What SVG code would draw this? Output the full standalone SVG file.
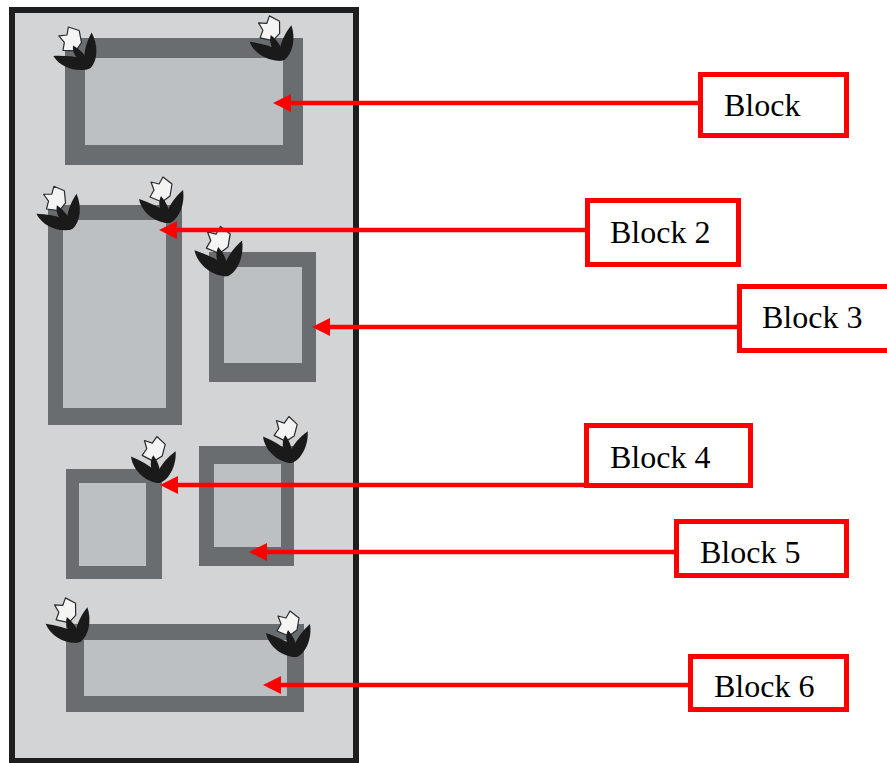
<svg xmlns="http://www.w3.org/2000/svg" xmlns:xlink="http://www.w3.org/1999/xlink" width="887" height="763" viewBox="0 0 887 763">
<style>
.frame{fill:#6a6d70}
.inner{fill:#bdc0c2}
.lbl{fill:#ffffff;stroke:#ff0000;stroke-width:5}
.txt{font-family:'Liberation Serif',Tinos,'Times New Roman',Times,'Nimbus Roman','FreeSerif','DejaVu Serif',serif;font-size:32px;fill:#000}
.arr{stroke:#ff0000;stroke-width:4.5;fill:none;marker-end:url(#ah)}
.leaf{fill:#1a1a1a}
.petal{fill:#f4f4f4;stroke:#2a2a2a;stroke-width:1.2;stroke-linejoin:round}
</style>
<defs>
<marker id="ah" viewBox="0 0 18 18" refX="3" refY="9" markerWidth="18" markerHeight="18" markerUnits="userSpaceOnUse" orient="auto">
<path d="M0,0 L18,9 L0,18 Z" fill="#ff0000"/>
</marker>
<g id="flower">
<path class="petal" d="M-19,-39 L-11,-37 L-7,-44 L2,-37 L0,-25 L-8,-19 L-20,-24 L-16,-31 Z"/>
<path class="leaf" d="M0,2 C-12,3 -28,-7 -31,-22 C-22,-19 -12,-15 -4,-9 Z"/>
<path class="leaf" d="M0,2 C10,-3 15,-18 13,-31 C6,-25 -1,-16 -4,-6 Z"/>
<path class="leaf" d="M-1,1 C-10,-7 -13,-17 -9,-25 C-3,-18 1,-10 -1,1 Z"/>
<ellipse class="leaf" cx="-3" cy="-4" rx="7" ry="6"/>
</g>
</defs>
<g id="panel">
<rect x="12" y="10" width="344" height="751" fill="#d2d4d6" stroke="#1e1e1e" stroke-width="6"/>
</g>
<g id="block1">
<rect class="frame" x="65" y="38" width="238" height="127"/>
<rect class="inner" x="85" y="58" width="198" height="87"/>
<use xlink:href="#flower" transform="translate(90,66) rotate(-20)"/>
<use xlink:href="#flower" transform="translate(284,58) rotate(-10)"/>
</g>
<g id="block2">
<rect class="frame" x="48" y="205" width="134" height="220"/>
<rect class="inner" x="63" y="220" width="103" height="188"/>
<use xlink:href="#flower" transform="translate(72,227) rotate(-15)"/>
<use xlink:href="#flower" transform="translate(170,221)"/>
</g>
<g id="block3">
<rect class="frame" x="209" y="252" width="107" height="130"/>
<rect class="inner" x="224" y="267" width="78" height="96"/>
<use xlink:href="#flower" transform="translate(228,274) scale(1.08)"/>
</g>
<g id="block4">
<rect class="frame" x="66" y="469" width="96" height="110"/>
<rect class="inner" x="79" y="483" width="67" height="83"/>
<use xlink:href="#flower" transform="translate(160,481) rotate(5)"/>
</g>
<g id="block5">
<rect class="frame" x="199" y="446" width="95" height="120"/>
<rect class="inner" x="214" y="464" width="67" height="83"/>
<use xlink:href="#flower" transform="translate(292,461) rotate(5)"/>
</g>
<g id="block6">
<rect class="frame" x="66" y="624" width="238" height="88"/>
<rect class="inner" x="84" y="640" width="203" height="56"/>
<use xlink:href="#flower" transform="translate(80,640) rotate(-10)"/>
<use xlink:href="#flower" transform="translate(297,655)"/>
</g>
<g id="connectors">
<line class="arr" x1="698" y1="103" x2="288" y2="103"/>
<line class="arr" x1="585" y1="230" x2="174" y2="230"/>
<line class="arr" x1="737" y1="327" x2="327" y2="327"/>
<line class="arr" x1="584" y1="485" x2="175" y2="485"/>
<line class="arr" x1="674" y1="552" x2="264" y2="552"/>
<line class="arr" x1="688" y1="685" x2="278" y2="685"/>
</g>
<g id="label1">
<rect class="lbl" x="700.5" y="74.5" width="146" height="61"/>
<text class="txt" x="724" y="116">Block</text>
</g>
<g id="label2">
<rect class="lbl" x="587.5" y="200.5" width="151" height="64"/>
<text class="txt" x="610" y="243">Block 2</text>
</g>
<g id="label3">
<rect class="lbl" x="739.5" y="286.5" width="160" height="64"/>
<text class="txt" x="762" y="328">Block 3</text>
</g>
<g id="label4">
<rect class="lbl" x="586.5" y="425.5" width="164" height="60"/>
<text class="txt" x="610" y="468">Block 4</text>
</g>
<g id="label5">
<rect class="lbl" x="676.5" y="521.5" width="170" height="54"/>
<text class="txt" x="700" y="563">Block 5</text>
</g>
<g id="label6">
<rect class="lbl" x="690.5" y="656.5" width="156" height="53"/>
<text class="txt" x="714" y="697">Block 6</text>
</g>
</svg>
